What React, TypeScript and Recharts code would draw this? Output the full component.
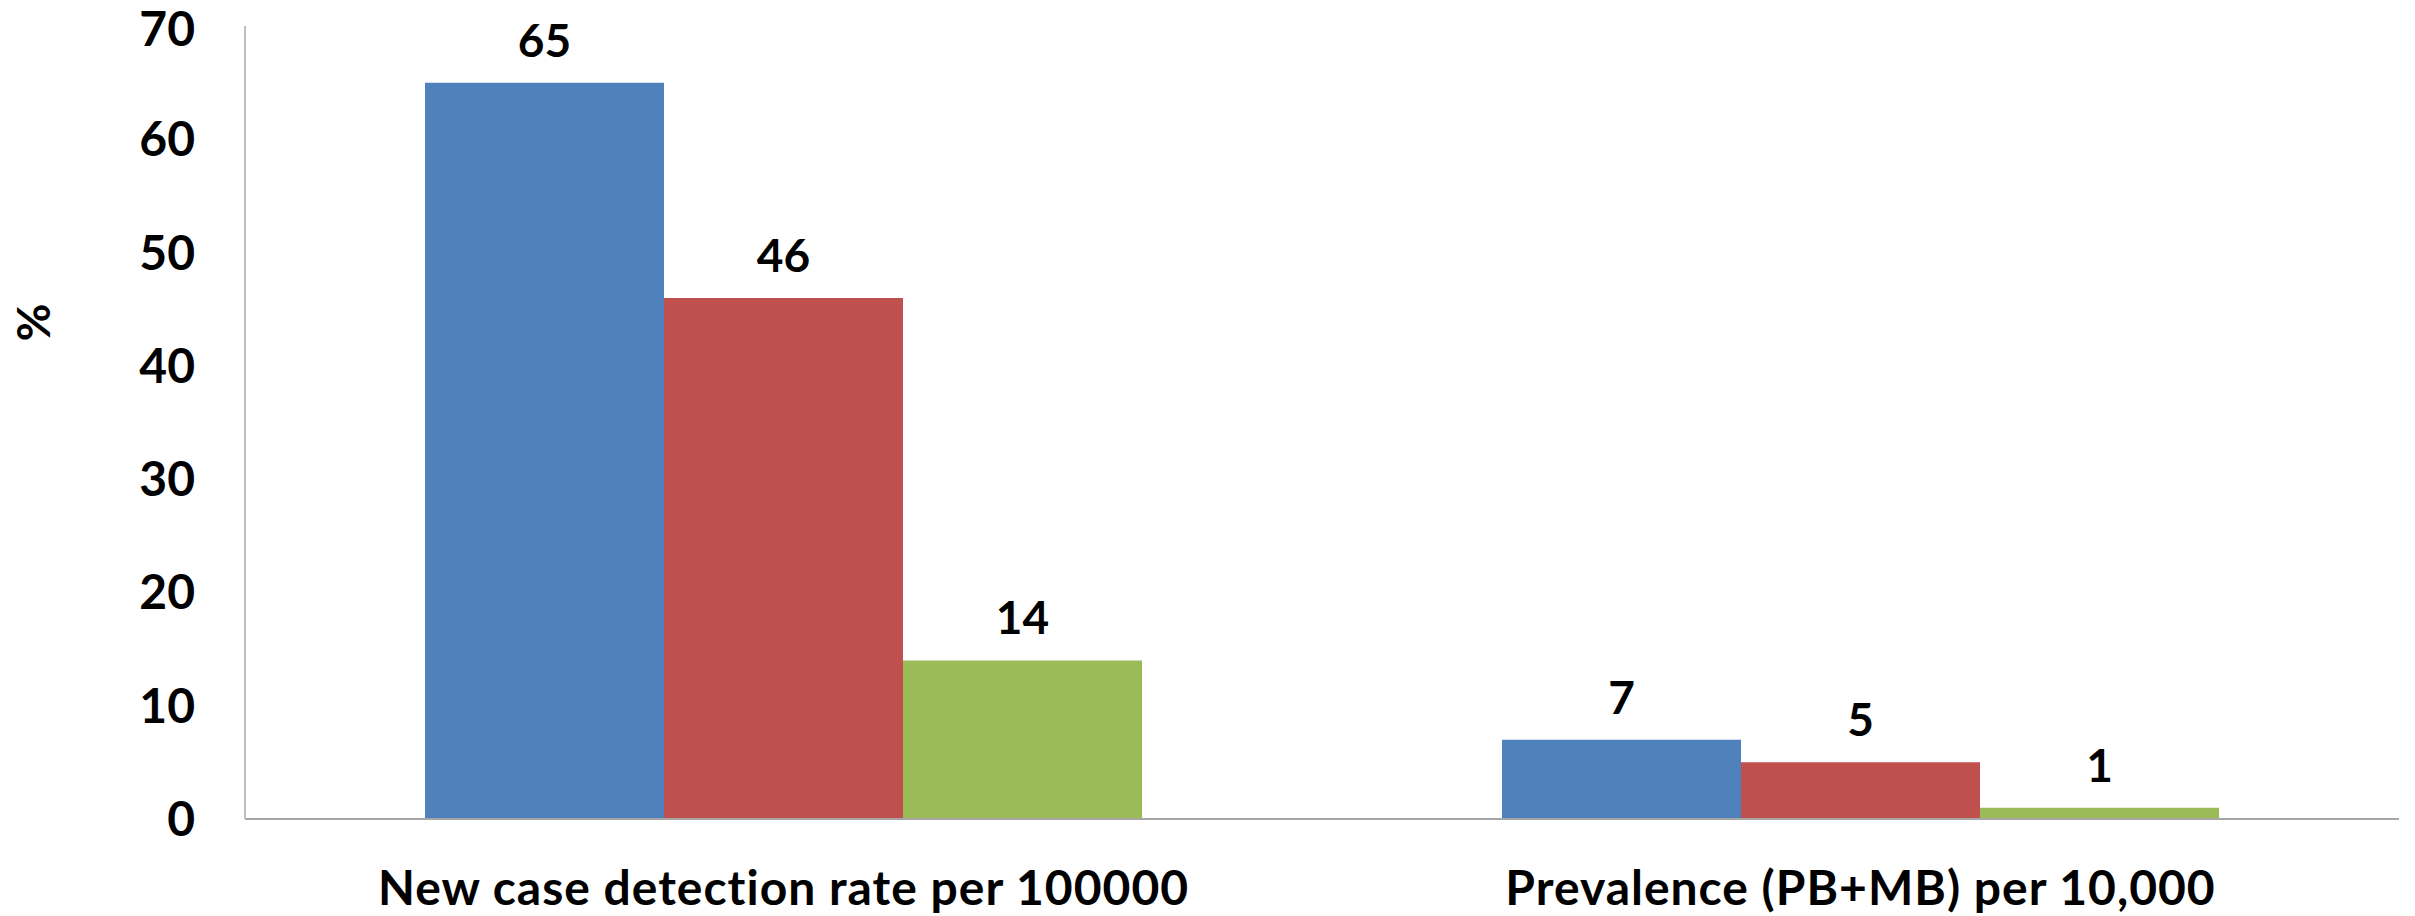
import React from 'react';
import { BarChart, Bar, XAxis, YAxis, LabelList } from 'recharts';

const CATEGORIES = ['New case detection rate per 100000', 'Prevalence (PB+MB) per 10,000'];
const SERIES_A = [65, 7];
const SERIES_B = [46, 5];
const SERIES_C = [14, 1];
const Y_TICKS = [0, 10, 20, 30, 40, 50, 60, 70];

const COLORS = ['#4F81BD', '#C0504D', '#9BBB59'];
const FONT = 'Lato, "Open Sans", sans-serif';

const data = CATEGORIES.map((name, i) => ({
    name,
    a: SERIES_A[i],
    b: SERIES_B[i],
    c: SERIES_C[i],
}));

const PercentLabel = ({ viewBox }: any) => {
    const x = viewBox.x + 32;
    const y = viewBox.y + viewBox.height / 2 - 100;
    return (
        <text
            x={x}
            y={y}
            transform={`rotate(-90, ${x}, ${y})`}
            textAnchor="middle"
            dominantBaseline="central"
            fontFamily={FONT}
            fontWeight={700}
            fontSize={46}
            fill="#000"
        >
            %
        </text>
    );
};

export default function App() {
    const labelStyle = { fill: '#000', fontSize: 46, fontWeight: 700, fontFamily: FONT };
    return (
        <div style={{ width: 2415, height: 916, background: '#fff' }}>
            <style>{`body { margin: 0; }`}</style>
            <BarChart
                width={2415}
                height={916}
                data={data}
                margin={{ top: 26, right: 16, left: 0, bottom: 0 }}
                barGap={0}
            >
                <XAxis
                    dataKey="name"
                    height={97}
                    axisLine={{ stroke: '#A6A6A6', strokeWidth: 2 }}
                    tickLine={false}
                    tickSize={0}
                    tickMargin={52}
                    interval={0}
                    tick={{ fill: '#000', fontSize: 48, fontWeight: 700, fontFamily: FONT, letterSpacing: 1 }}
                />
                <YAxis
                    width={245}
                    domain={[0, 70]}
                    ticks={Y_TICKS}
                    axisLine={{ stroke: '#BFBFBF', strokeWidth: 2 }}
                    tickLine={false}
                    tickSize={0}
                    tickMargin={50}
                    tick={{ fill: '#000', fontSize: 48, fontWeight: 700, fontFamily: FONT }}
                    label={<PercentLabel />}
                />
                <Bar dataKey="a" fill={COLORS[0]} barSize={239} isAnimationActive={false}>
                    <LabelList dataKey="a" position="top" offset={26} style={labelStyle} />
                </Bar>
                <Bar dataKey="b" fill={COLORS[1]} barSize={239} isAnimationActive={false}>
                    <LabelList dataKey="b" position="top" offset={26} style={labelStyle} />
                </Bar>
                <Bar dataKey="c" fill={COLORS[2]} barSize={239} isAnimationActive={false}>
                    <LabelList dataKey="c" position="top" offset={26} style={labelStyle} />
                </Bar>
            </BarChart>
        </div>
    );
}
